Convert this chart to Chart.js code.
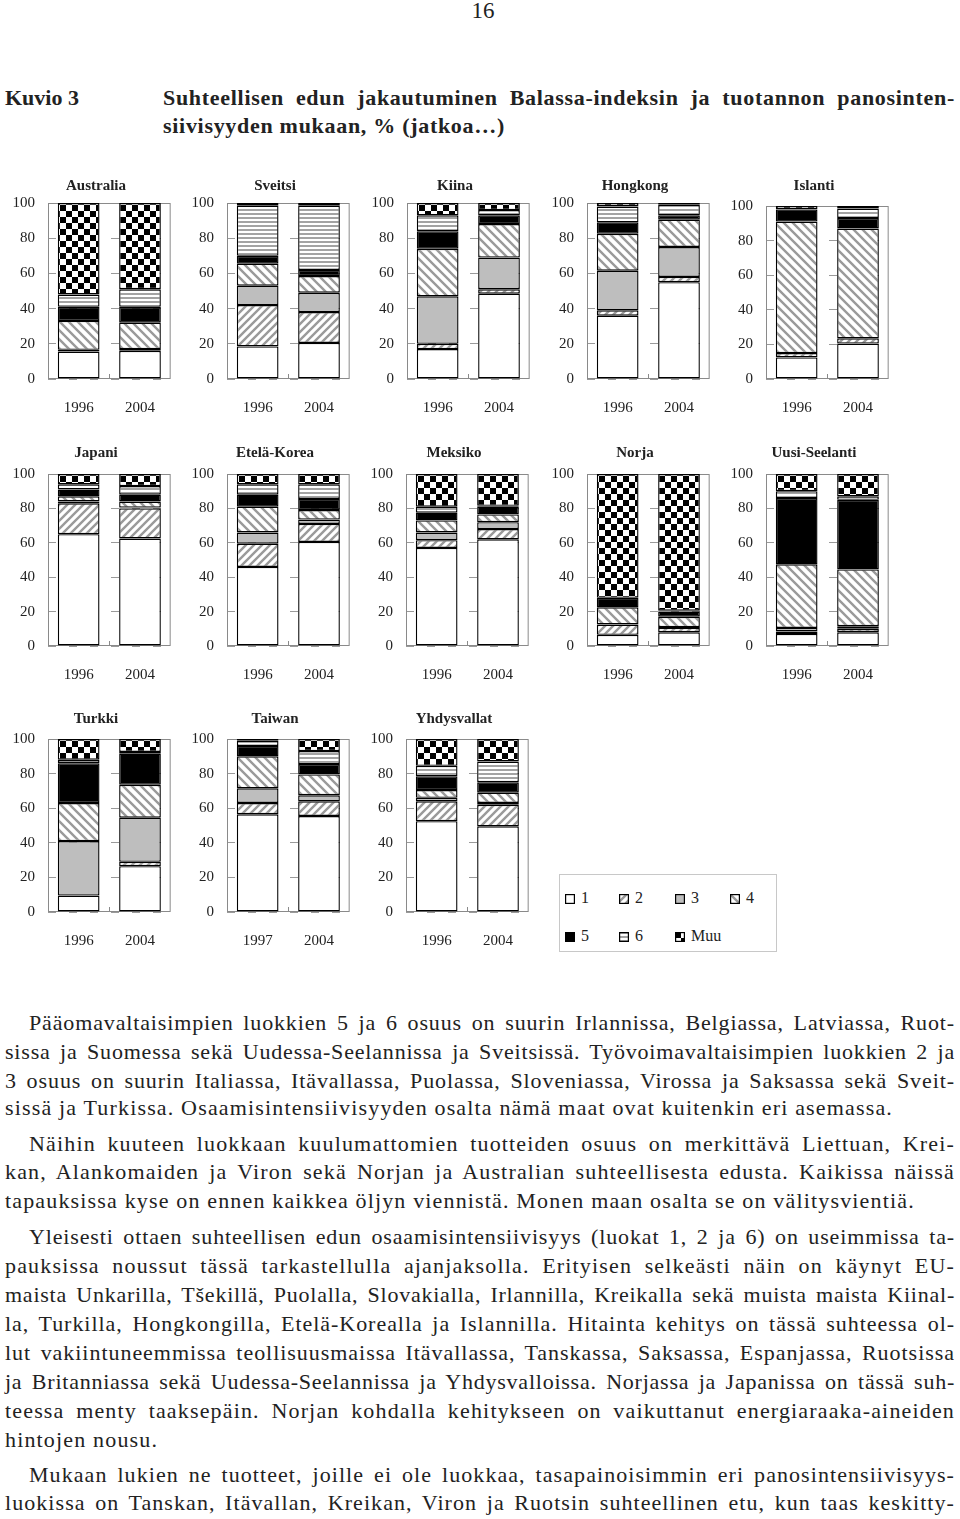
<!DOCTYPE html>
<html lang="fi">
<head>
<meta charset="utf-8">
<title>Kuvio 3</title>
<script src="https://cdn.jsdelivr.net/npm/chart.js@4.4.1/dist/chart.umd.min.js"></script>
<style>
  html, body { margin: 0; padding: 0; background: #fff; }
  body { width: 960px; height: 1519px; position: relative; overflow: hidden;
         font-family: 'Liberation Serif', 'DejaVu Serif', serif; color: #222; }
  .abs { position: absolute; }
  .pageno { left: 0; width: 966px; top: -2px; text-align: center; font-size: 23px; }
  .kuvio { left: 5px; top: 84px; font-size: 22px; font-weight: bold; line-height: 28px; }
  .title { position: absolute; left: 163px; width: 792px; font-size: 22px; font-weight: bold; line-height: 28px;
           white-space: nowrap; text-align: justify; text-align-last: justify; }
  .ptitle { width: 160px; font-size: 15px; font-weight: bold; text-align: center; line-height: 18px; }
  .legend { left: 559px; top: 874px; width: 216px; height: 76px; border: 1px solid #c8c8c8; }
  .lg-item { position: absolute; font-size: 16px; line-height: 18px; }
  .lg-item canvas { position: absolute; left: 0; top: 5px; }
  .lg-item span { position: absolute; left: 16px; top: 0; white-space: nowrap; }
  .line { position: absolute; left: 5px; width: 950px; font-size: 22px; line-height: 29px;
          white-space: nowrap; text-align: justify; text-align-last: justify; }
  .last { text-align-last: left; }
</style>
</head>
<body>

<div class="abs pageno">16</div>
<div class="abs kuvio">Kuvio 3</div>
<div class="title" style="top:84px">Suhteellisen edun jakautuminen Balassa-indeksin ja tuotannon panosinten-</div>
<div class="title last" id="titleLast" style="top:112px">siivisyyden mukaan, % (jatkoa…)</div>

<div id="charts"></div>

<div class="abs legend" id="legend"></div>

<!-- tekstikappaleet -->
<div class="line" style="left:29px;width:926px;top:1008px">Pääomavaltaisimpien luokkien 5 ja 6 osuus on suurin Irlannissa, Belgiassa, Latviassa, Ruot-</div>
<div class="line" style="top:1037px">sissa ja Suomessa sekä Uudessa-Seelannissa ja Sveitsissä. Työvoimavaltaisimpien luokkien 2 ja</div>
<div class="line" style="top:1066px">3 osuus on suurin Italiassa, Itävallassa, Puolassa, Sloveniassa, Virossa ja Saksassa sekä Sveit-</div>
<div class="line last" id="refLine" style="top:1093px">sissä ja Turkissa. Osaamisintensiivisyyden osalta nämä maat ovat kuitenkin eri asemassa.</div>

<div class="line" style="left:29px;width:926px;top:1129px">Näihin kuuteen luokkaan kuulumattomien tuotteiden osuus on merkittävä Liettuan, Krei-</div>
<div class="line" style="top:1157px">kan, Alankomaiden ja Viron sekä Norjan ja Australian suhteellisesta edusta. Kaikissa näissä</div>
<div class="line last" style="top:1186px">tapauksissa kyse on ennen kaikkea öljyn viennistä. Monen maan osalta se on välitysvientiä.</div>

<div class="line" style="left:29px;width:926px;top:1222px">Yleisesti ottaen suhteellisen edun osaamisintensiivisyys (luokat 1, 2 ja 6) on useimmissa ta-</div>
<div class="line" style="top:1251px">pauksissa noussut tässä tarkastellulla ajanjaksolla. Erityisen selkeästi näin on käynyt EU-</div>
<div class="line" style="top:1280px">maista Unkarilla, Tšekillä, Puolalla, Slovakialla, Irlannilla, Kreikalla sekä muista maista Kiinal-</div>
<div class="line" style="top:1309px">la, Turkilla, Hongkongilla, Etelä-Korealla ja Islannilla. Hitainta kehitys on tässä suhteessa ol-</div>
<div class="line" style="top:1338px">lut vakiintuneemmissa teollisuusmaissa Itävallassa, Tanskassa, Saksassa, Espanjassa, Ruotsissa</div>
<div class="line" style="top:1367px">ja Britanniassa sekä Uudessa-Seelannissa ja Yhdysvalloissa. Norjassa ja Japanissa on tässä suh-</div>
<div class="line" style="top:1396px">teessa menty taaksepäin. Norjan kohdalla kehitykseen on vaikuttanut energiaraaka-aineiden</div>
<div class="line last" style="top:1425px">hintojen nousu.</div>

<div class="line" style="left:29px;width:926px;top:1460px">Mukaan lukien ne tuotteet, joille ei ole luokkaa, tasapainoisimmin eri panosintensiivisyys-</div>
<div class="line" style="top:1488px">luokissa on Tanskan, Itävallan, Kreikan, Viron ja Ruotsin suhteellinen etu, kun taas keskitty-</div>

<script>
// --- data: osuudet (%) luokittain 1..6 + Muu, rivit = vuodet ---
const seriesLabels = ['1', '2', '3', '4', '5', '6', 'Muu'];
const yTicks = [0, 20, 40, 60, 80, 100];
const years = ['1996', '2004'];
const yearsTaiwan = ['1997', '2004'];

const australia    = [[15.6, 1, 0, 16.4, 8, 7, 52],     [16, 1, 0, 15, 9, 10, 49]];
const sveitsi      = [[18.5, 23.5, 11, 12.5, 4.5, 28.5, 1.5], [20.5, 17.5, 11, 9.5, 3.5, 36.5, 1.5]];
const kiina        = [[17, 3, 27, 27, 10, 9, 7],        [48.5, 2.5, 18, 19, 5, 3, 4]];
const hongkong     = [[36, 3, 22.5, 21, 6.5, 9, 2],     [55, 3, 17, 15.5, 2.5, 6, 1]];
const islanti      = [[12.5, 2.5, 0, 76, 7, 0, 2],      [20.5, 3, 0, 63.5, 6, 5.5, 1.5]];
const japani       = [[65, 18, 1, 3, 4, 3, 6],          [62.5, 17.5, 0.5, 3.5, 4, 5, 7]];
const eteläKorea   = [[46, 13.5, 6.5, 15, 7, 6, 6],     [60.5, 10.5, 2.5, 5.5, 6.5, 8.5, 6]];
const meksiko      = [[57, 4.5, 4.5, 7, 4.5, 3.5, 19],  [62, 6, 4, 4.5, 4.5, 0.5, 18.5]];
const norja        = [[6.5, 6, 0, 10, 5.5, 0, 72],      [8, 2.5, 0.5, 6, 3, 0.5, 79.5]];
const uusiSeelanti = [[7, 1.5, 2, 37, 38.5, 4, 10],     [8, 2, 1.5, 33, 40.5, 2, 13]];
const turkki       = [[9.5, 0, 31.5, 22, 23, 2, 12],    [26.5, 2.5, 25.5, 19, 18, 1, 7.5]];
const taiwan       = [[56.5, 6.5, 8.5, 18.5, 6, 3, 1],  [55.5, 8.5, 3.5, 12, 6, 7.5, 7]];
const yhdysvallat  = [[52.5, 11.5, 2, 4.5, 8, 6, 15.5], [49.5, 12.5, 1, 6, 6, 12, 13]];

// --- paneelien sijoittelu sivulla ---
const panels = [
  { name: 'Australia',     values: australia,    labels: years,       left: 48,  top: 202, h: 177, titleY: 185 },
  { name: 'Sveitsi',       values: sveitsi,      labels: years,       left: 227, top: 202, h: 177, titleY: 185 },
  { name: 'Kiina',         values: kiina,        labels: years,       left: 407, top: 202, h: 177, titleY: 185 },
  { name: 'Hongkong',      values: hongkong,     labels: years,       left: 587, top: 202, h: 177, titleY: 185 },
  { name: 'Islanti',       values: islanti,      labels: years,       left: 766, top: 205, h: 174, titleY: 185 },
  { name: 'Japani',        values: japani,       labels: years,       left: 48,  top: 473, h: 173, titleY: 452 },
  { name: 'Etelä-Korea',   values: eteläKorea,   labels: years,       left: 227, top: 473, h: 173, titleY: 452 },
  { name: 'Meksiko',       values: meksiko,      labels: years,       left: 406, top: 473, h: 173, titleY: 452 },
  { name: 'Norja',         values: norja,        labels: years,       left: 587, top: 473, h: 173, titleY: 452 },
  { name: 'Uusi-Seelanti', values: uusiSeelanti, labels: years,       left: 766, top: 473, h: 173, titleY: 452 },
  { name: 'Turkki',        values: turkki,       labels: years,       left: 48,  top: 738, h: 174, titleY: 718 },
  { name: 'Taiwan',        values: taiwan,       labels: yearsTaiwan, left: 227, top: 738, h: 174, titleY: 718 },
  { name: 'Yhdysvallat',   values: yhdysvallat,  labels: years,       left: 406, top: 738, h: 174, titleY: 718 }
];

const FONT = "'Liberation Serif', 'DejaVu Serif', serif";
const HATCH = '#9a9a9a';

// --- kuviotäytöt ---
function makePattern(kind) {
    const c = document.createElement('canvas');
    const g = c.getContext('2d');
    let s = 8;
    if (kind === 'back') s = 9;
    if (kind === 'hstripe') s = 4;
    if (kind === 'checker') s = 12;
    c.width = s; c.height = s;
    g.fillStyle = '#fff';
    g.fillRect(0, 0, s, s);
    if (kind === 'slash' || kind === 'back') {
        g.strokeStyle = HATCH;
        g.lineWidth = 2.4;
        g.beginPath();
        if (kind === 'slash') {
            g.moveTo(0, s); g.lineTo(s, 0);
            g.moveTo(-s / 2, s / 2); g.lineTo(s / 2, -s / 2);
            g.moveTo(s / 2, 1.5 * s); g.lineTo(1.5 * s, s / 2);
        } else {
            g.moveTo(0, 0); g.lineTo(s, s);
            g.moveTo(-s / 2, s / 2); g.lineTo(s / 2, 1.5 * s);
            g.moveTo(s / 2, -s / 2); g.lineTo(1.5 * s, s / 2);
        }
        g.stroke();
    } else if (kind === 'hstripe') {
        g.fillStyle = '#a3a3a3';
        g.fillRect(0, 0, s, 2);
    } else if (kind === 'checker') {
        g.fillStyle = '#000';
        g.fillRect(0, 0, 6, 6);
        g.fillRect(6, 6, 6, 6);
    }
    return g.createPattern(c, 'repeat');
}

const fills = [
    '#ffffff',
    makePattern('slash'),
    '#bebebe',
    makePattern('back'),
    '#000000',
    makePattern('hstripe'),
    makePattern('checker')
];

// kehys + pieni keskimerkki alareunaan
const framePlugin = {
    id: 'frame',
    beforeDatasetsDraw(chart) {
        const { ctx, chartArea: a } = chart;
        ctx.save();
        ctx.strokeStyle = '#8a8a8a';
        ctx.lineWidth = 1;
        ctx.strokeRect(a.left + 0.5, a.top + 0.5, a.right - a.left - 1, a.bottom - a.top - 1);
        const mid = Math.round((a.left + a.right) / 2) + 0.5;
        ctx.beginPath();
        ctx.moveTo(mid, a.bottom);
        ctx.lineTo(mid, a.bottom - 5);
        ctx.stroke();
        ctx.restore();
    }
};

// Chart.js lisää ylälaitaan padding + puolet tick-tekstin korkeudesta
const Y_W = 48, PAD_TOP = 12, TOP_EXTRA = 9, PAD_RIGHT = 4, X_H = 44, PLOT_W = 124;
const holder = document.getElementById('charts');

panels.forEach(p => {
    // otsikko
    const t = document.createElement('div');
    t.className = 'abs ptitle';
    t.textContent = p.name;
    t.style.left = (p.left + 48 - 80) + 'px';
    t.style.top = (p.titleY - 9) + 'px';
    document.body.appendChild(t);

    const cv = document.createElement('canvas');
    const off = PAD_TOP + TOP_EXTRA;
    const w = Y_W + PLOT_W + PAD_RIGHT;
    const h = off + p.h + X_H;
    cv.width = w; cv.height = h;
    cv.style.cssText = `position:absolute;left:${p.left - Y_W}px;top:${p.top - off}px;width:${w}px;height:${h}px`;
    holder.appendChild(cv);

    new Chart(cv, {
        type: 'bar',
        data: {
            labels: p.labels,
            datasets: seriesLabels.map((s, i) => ({
                label: s,
                data: p.values.map(v => v[i]),
                backgroundColor: fills[i],
                borderColor: '#000',
                borderWidth: 1.4,
                borderSkipped: false,
                barPercentage: 0.68,
                categoryPercentage: 1
            }))
        },
        options: {
            responsive: false,
            animation: false,
            devicePixelRatio: 1,
            layout: { padding: { top: PAD_TOP, right: PAD_RIGHT, left: 0, bottom: 0 } },
            plugins: { legend: { display: false }, tooltip: { enabled: false } },
            scales: {
                x: {
                    stacked: true,
                    grid: { display: false, drawTicks: false },
                    border: { display: false },
                    ticks: { padding: 20, color: '#222', font: { family: FONT, size: 15 } },
                    afterFit: s => { s.height = X_H; }
                },
                y: {
                    stacked: true,
                    min: yTicks[0],
                    max: yTicks[yTicks.length - 1],
                    afterBuildTicks: s => { s.ticks = yTicks.map(v => ({ value: v })); },
                    grid: { color: '#9a9a9a', drawTicks: false },
                    border: { display: false, dash: [8, 13] },
                    ticks: { padding: 13, color: '#222', font: { family: FONT, size: 15 } },
                    afterFit: s => { s.width = Y_W; }
                }
            }
        },
        plugins: [framePlugin]
    });
});

// --- selite ---
const legendBox = document.getElementById('legend');
const legendPos = [[5, 14], [59, 14], [115, 14], [170, 14], [5, 52], [59, 52], [115, 52]];
seriesLabels.forEach((s, i) => {
    const item = document.createElement('div');
    item.className = 'lg-item';
    item.style.left = legendPos[i][0] + 'px';
    item.style.top = legendPos[i][1] + 'px';
    const sw = document.createElement('canvas');
    sw.width = 10; sw.height = 10;
    const g = sw.getContext('2d');
    g.fillStyle = fills[i];
    g.fillRect(0, 0, 10, 10);
    g.strokeStyle = '#000';
    g.lineWidth = 1.2;
    g.strokeRect(0.6, 0.6, 8.8, 8.8);
    const lab = document.createElement('span');
    lab.textContent = s;
    item.appendChild(sw);
    item.appendChild(lab);
    legendBox.appendChild(item);
});

// --- tekstirivien kirjainväli: luonnollinen leveys kuten alkuperäisessä ---
function naturalWidth(el) {
    const ta = el.style.textAlign, tl = el.style.textAlignLast;
    el.style.textAlign = 'left';
    el.style.textAlignLast = 'left';
    const r = document.createRange();
    r.selectNodeContents(el);
    const w = r.getBoundingClientRect().width;
    el.style.textAlign = ta;
    el.style.textAlignLast = tl;
    return w;
}

function tuneSpacing(selector, refEl, targetW) {
    const lines = Array.from(document.querySelectorAll(selector));
    lines.forEach(el => { el.style.letterSpacing = '0px'; });
    const n = refEl.textContent.length;
    const base = (targetW - naturalWidth(refEl)) / n;
    lines.forEach(el => {
        let ls = base;
        el.style.letterSpacing = ls + 'px';
        const avail = el.clientWidth - 3 * (el.textContent.split(' ').length - 1);
        while (ls > -1 && naturalWidth(el) > avail) {
            ls -= 0.05;
            el.style.letterSpacing = ls + 'px';
        }
    });
}

tuneSpacing('.line', document.getElementById('refLine'), 888);
tuneSpacing('.title', document.getElementById('titleLast'), 342);
</script>
</body>
</html>
